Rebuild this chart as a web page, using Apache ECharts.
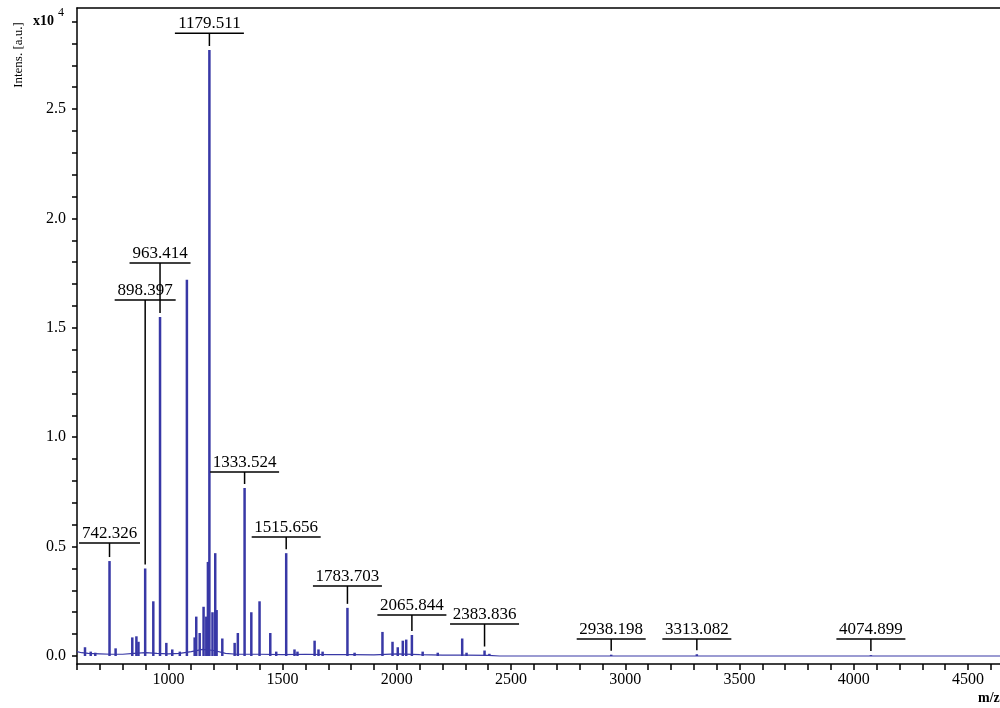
<!DOCTYPE html>
<html>
<head>
<meta charset="utf-8">
<title>Mass spectrum</title>
<script src="https://cdn.jsdelivr.net/npm/echarts@6.0.0/dist/echarts.min.js"></script>
<style>
  html, body { margin: 0; padding: 0; background: #fff; }
  #main { width: 1000px; height: 708px; }
</style>
</head>
<body>
<div id="main"></div>
<script>
// intensities are in units of x10^4 a.u.
// unlabelled peaks
var peakMz  = [635, 660, 680, 769, 842, 860, 869, 934, 991, 1017, 1050, 1081, 1115, 1122, 1137, 1154, 1166, 1173, 1193,
               1205, 1211, 1236, 1290, 1304, 1363, 1399, 1446, 1472, 1552, 1565, 1640, 1657, 1675, 1815, 1937, 1981,
               2004, 2026, 2041, 2113, 2179, 2286, 2305, 2405];
var peakInt = [0.04, 0.02, 0.015, 0.035, 0.085, 0.09, 0.065, 0.25, 0.06, 0.03, 0.02, 1.72, 0.085, 0.18, 0.105, 0.225, 0.18, 0.43, 0.2,
               0.47, 0.21, 0.08, 0.06, 0.105, 0.2, 0.25, 0.105, 0.02, 0.03, 0.02, 0.07, 0.03, 0.02, 0.015, 0.11, 0.065,
               0.04, 0.07, 0.075, 0.02, 0.015, 0.08, 0.015, 0.01];

// labelled peaks
var labelText  = ['742.326', '898.397', '963.414', '1179.511', '1333.524', '1515.656', '1783.703', '2065.844',
                  '2383.836', '2938.198', '3313.082', '4074.899'];
var labelMz    = [742.326, 898.397, 963.414, 1179.511, 1333.524, 1515.656, 1783.703, 2065.844,
                  2383.836, 2938.198, 3313.082, 4074.899];
var labelInt   = [0.434, 0.40, 1.55, 2.77, 0.768, 0.47, 0.22, 0.096, 0.025, 0.006, 0.008, 0.004];
var labelLevel = [0.516, 1.627, 1.796, 2.847, 0.841, 0.544, 0.320, 0.187, 0.146, 0.078, 0.078, 0.078];

// baseline trace
var baseMz  = [600, 620, 650, 700, 750, 800, 850, 900, 950, 1000, 1050, 1100, 1150, 1200, 1250, 1300, 1400,
               1500, 1600, 1700, 1800, 1900, 2000, 2100, 2200, 2300, 2400, 2450, 4640];
var baseInt = [0.02, 0.015, 0.012, 0.01, 0.008, 0.008, 0.012, 0.015, 0.012, 0.01, 0.012, 0.02, 0.03, 0.025, 0.012,
               0.008, 0.008, 0.006, 0.008, 0.006, 0.006, 0.005, 0.01, 0.006, 0.004, 0.004, 0.003, 0, 0];

var xTicks  = [600, 700, 800, 900, 1000, 1100, 1200, 1300, 1400, 1500, 1600, 1700, 1800, 1900, 2000, 2100, 2200,
               2300, 2400, 2500, 2600, 2700, 2800, 2900, 3000, 3100, 3200, 3300, 3400, 3500, 3600, 3700, 3800,
               3900, 4000, 4100, 4200, 4300, 4400, 4500, 4600];
var xLabels = [1000, 1500, 2000, 2500, 3000, 3500, 4000, 4500];
var yTicks  = [0, 0.1, 0.2, 0.3, 0.4, 0.5, 0.6, 0.7, 0.8, 0.9, 1.0, 1.1, 1.2, 1.3, 1.4, 1.5, 1.6, 1.7, 1.8, 1.9,
               2.0, 2.1, 2.2, 2.3, 2.4, 2.5, 2.6, 2.7, 2.8, 2.9];
var yLabels = [0, 0.5, 1.0, 1.5, 2.0, 2.5];

var serif = 'Liberation Serif';
var peakColor = '#3838a6';

var barData = [];
for (var i = 0; i < peakMz.length; i++) barData.push([peakMz[i], peakInt[i]]);
for (var j = 0; j < labelMz.length; j++) barData.push([labelMz[j], labelInt[j]]);

var baseData = [];
for (var k = 0; k < baseMz.length; k++) baseData.push([baseMz[k], baseInt[k]]);

var annData = [];
for (var n = 0; n < labelMz.length; n++) annData.push([labelMz[n], labelInt[n], labelLevel[n], n]);

var chart = echarts.init(document.getElementById('main'));
chart.setOption({
  animation: false,
  backgroundColor: '#fff',
  grid: { left: 77, right: 0, top: 8, bottom: 44 },
  xAxis: [{
    type: 'value',
    min: 600,
    max: 4640,
    position: 'bottom',
    axisLine: { onZero: false, lineStyle: { color: '#000', width: 1.5 } },
    axisTick: { customValues: xTicks, length: 6, lineStyle: { color: '#000', width: 1.5 } },
    axisLabel: {
      customValues: xLabels, color: '#000', fontFamily: serif, fontSize: 16, margin: 8,
      formatter: function (v) { return String(v); }
    },
    splitLine: { show: false }
  }, {
    type: 'value',
    min: 600,
    max: 4640,
    position: 'top',
    axisLine: { onZero: false, lineStyle: { color: '#000', width: 1.5 } },
    axisTick: { show: false },
    axisLabel: { show: false },
    splitLine: { show: false }
  }],
  yAxis: {
    type: 'value',
    min: -0.0366,
    max: 2.962,
    axisLine: { show: true, onZero: false, lineStyle: { color: '#000', width: 1.5 } },
    axisTick: { show: true, customValues: yTicks, length: 5, lineStyle: { color: '#000', width: 1.5 } },
    axisLabel: {
      customValues: yLabels, color: '#000', fontFamily: serif, fontSize: 16, margin: 11,
      formatter: function (v) { return v.toFixed(1); }
    },
    splitLine: { show: false }
  },
  graphic: [
    { type: 'text', x: 19, y: 55, rotation: Math.PI / 2,
      style: { text: 'Intens. [a.u.]', font: '13px ' + serif, fill: '#000', align: 'center', verticalAlign: 'middle' } },
    { type: 'text', x: 33, y: 21,
      style: { text: 'x10', font: 'bold 14px ' + serif, fill: '#000', align: 'left', verticalAlign: 'middle' } },
    { type: 'text', x: 58, y: 13,
      style: { text: '4', font: '12px ' + serif, fill: '#000', align: 'left', verticalAlign: 'middle' } },
    { type: 'text', x: 978, y: 698,
      style: { text: 'm/z', font: 'bold 14px ' + serif, fill: '#000', align: 'left', verticalAlign: 'middle' } }
  ],
  series: [{
    type: 'line',
    data: baseData,
    symbol: 'none',
    lineStyle: { color: peakColor, width: 1.2 },
    z: 2
  }, {
    type: 'bar',
    data: barData,
    barWidth: 2.5,
    itemStyle: { color: peakColor },
    z: 3
  }, {
    type: 'custom',
    data: annData,
    encode: { x: 0, y: 2 },
    clip: false,
    z: 5,
    renderItem: function (params, api) {
      var mz = api.value(0);
      var bar = api.coord([mz, api.value(2)]);
      var top = api.coord([mz, api.value(1)]);
      var txt = labelText[api.value(3)];
      var half = txt.length * 4 + 2.5;
      return {
        type: 'group',
        children: [{
          type: 'line',
          shape: { x1: bar[0] - half, y1: bar[1], x2: bar[0] + half, y2: bar[1] },
          style: { stroke: '#000', lineWidth: 1.5 }
        }, {
          type: 'line',
          shape: { x1: bar[0], y1: bar[1], x2: bar[0], y2: top[1] - 4 },
          style: { stroke: '#000', lineWidth: 1.5 }
        }, {
          type: 'text',
          x: bar[0], y: bar[1] - 1,
          style: { text: txt, font: '17px ' + serif, fill: '#000', align: 'center', verticalAlign: 'bottom' }
        }]
      };
    }
  }]
});
</script>
</body>
</html>
